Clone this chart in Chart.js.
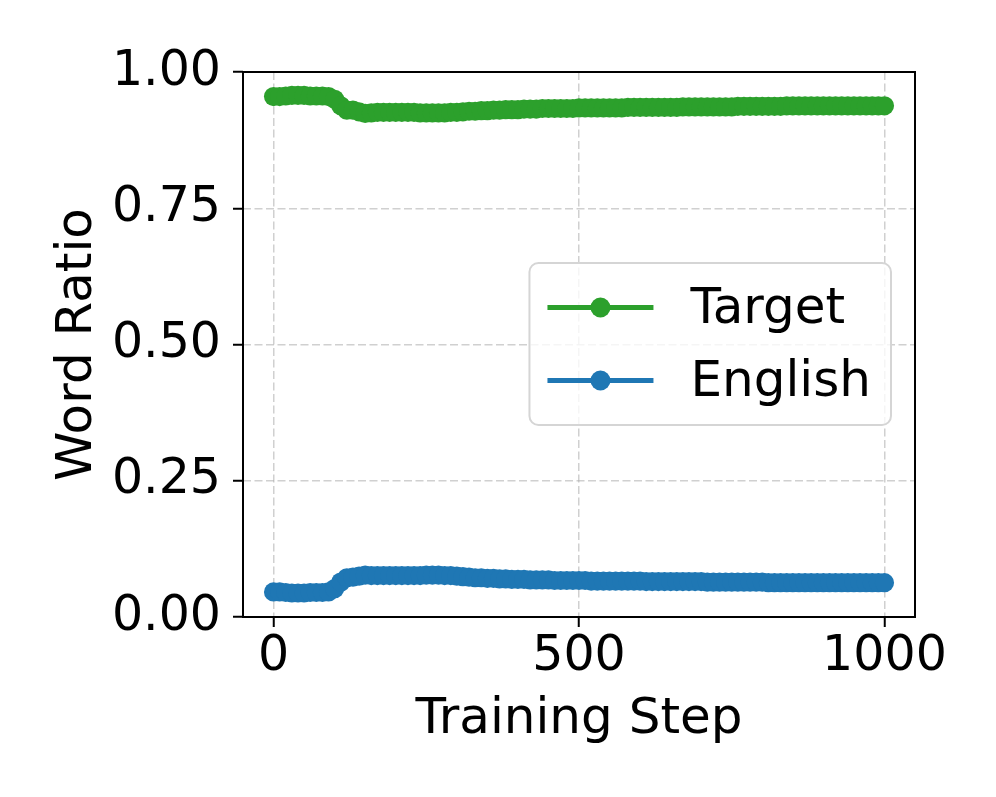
<!DOCTYPE html>
<html>
<head>
<meta charset="utf-8">
<script src="https://cdn.jsdelivr.net/npm/chart.js@4.4.1/dist/chart.umd.min.js"></script>
<style>
  html, body { margin: 0; padding: 0; background: #ffffff; }
  #wrap { width: 996px; height: 797px; }
</style>
</head>
<body>
<div id="wrap"><canvas id="c" width="996" height="797"></canvas></div>
<script>
// ---- data ----
const steps = [
  0, 10, 20, 30, 40, 50, 60, 70, 80, 90,
  100, 110, 120, 130, 140, 150, 160, 170, 180, 190,
  200, 210, 220, 230, 240, 250, 260, 270, 280, 290,
  300, 310, 320, 330, 340, 350, 360, 370, 380, 390,
  400, 410, 420, 430, 440, 450, 460, 470, 480, 490,
  500, 510, 520, 530, 540, 550, 560, 570, 580, 590,
  600, 610, 620, 630, 640, 650, 660, 670, 680, 690,
  700, 710, 720, 730, 740, 750, 760, 770, 780, 790,
  800, 810, 820, 830, 840, 850, 860, 870, 880, 890,
  900, 910, 920, 930, 940, 950, 960, 970, 980, 990,
  1000
];
const targetRatio = [
  0.955, 0.955, 0.956, 0.957, 0.957, 0.957, 0.956, 0.956, 0.956, 0.955,
  0.950, 0.938, 0.930, 0.930, 0.927, 0.924, 0.925, 0.926, 0.926, 0.926,
  0.926, 0.926, 0.926, 0.926, 0.925, 0.925, 0.925, 0.925, 0.925, 0.926,
  0.926, 0.927, 0.928, 0.928, 0.929, 0.929, 0.930, 0.930, 0.931, 0.931,
  0.931, 0.932, 0.932, 0.932, 0.933, 0.933, 0.933, 0.933, 0.933, 0.933,
  0.934, 0.934, 0.934, 0.934, 0.934, 0.934, 0.934, 0.934, 0.935, 0.935,
  0.935, 0.935, 0.935, 0.935, 0.935, 0.935, 0.935, 0.936, 0.936, 0.936,
  0.936, 0.936, 0.936, 0.936, 0.936, 0.936, 0.937, 0.937, 0.937, 0.937,
  0.937, 0.937, 0.937, 0.937, 0.938, 0.938, 0.938, 0.938, 0.938, 0.938,
  0.938, 0.938, 0.938, 0.938, 0.938, 0.938, 0.938, 0.938, 0.938, 0.938,
  0.938
];
const englishRatio = [
  0.046, 0.046, 0.045, 0.044, 0.044, 0.044, 0.045, 0.045, 0.045, 0.046,
  0.052, 0.064, 0.072, 0.073, 0.075, 0.077, 0.076, 0.076, 0.076, 0.076,
  0.076, 0.076, 0.076, 0.076, 0.076, 0.077, 0.077, 0.077, 0.076, 0.076,
  0.075, 0.074, 0.073, 0.072, 0.072, 0.071, 0.071, 0.070, 0.070, 0.069,
  0.069, 0.069, 0.068, 0.068, 0.068, 0.068, 0.067, 0.067, 0.067, 0.067,
  0.067, 0.067, 0.066, 0.066, 0.066, 0.066, 0.066, 0.066, 0.066, 0.066,
  0.066, 0.065, 0.065, 0.065, 0.065, 0.065, 0.065, 0.065, 0.065, 0.065,
  0.065, 0.064, 0.064, 0.064, 0.064, 0.064, 0.064, 0.064, 0.064, 0.064,
  0.064, 0.063, 0.063, 0.063, 0.063, 0.063, 0.063, 0.063, 0.063, 0.063,
  0.063, 0.063, 0.063, 0.063, 0.063, 0.063, 0.063, 0.063, 0.063, 0.063,
  0.063
];
const xTickValues = [0, 500, 1000];
const yTickValues = [0, 0.25, 0.5, 0.75, 1.0];
const seriesNames = ['Target', 'English'];
const seriesColors = ['#2ca02c', '#1f77b4'];
const xTitle = 'Training Step';
const yTitle = 'Word Ratio';

// ---- styling ----
const FONT = 'DejaVu Sans';
const FS = 50;
const TICK_FS = 49;

function toPoints(xs, ys) { return xs.map((x, i) => ({ x: x, y: ys[i] })); }

const frameAndLegend = {
  id: 'frameAndLegend',
  afterDraw(chart) {
    const ctx = chart.ctx;
    const a = chart.chartArea;
    // axes frame (all four spines)
    ctx.save();
    ctx.strokeStyle = '#000';
    ctx.lineWidth = 2;
    ctx.strokeRect(a.left, a.top, a.right - a.left, a.bottom - a.top);
    ctx.restore();

    // legend (center right)
    ctx.save();
    ctx.font = FS + 'px "' + FONT + '"';
    const padL = 18, handleLen = 106, gap = 37, padR = 20, rowH = 73, padV = 8;
    let tw = 0;
    chart.data.datasets.forEach(d => { tw = Math.max(tw, ctx.measureText(d.label).width); });
    const w = padL + handleLen + gap + tw + padR;
    const h = padV * 2 + rowH * chart.data.datasets.length;
    const right = a.right - 24;
    const left = right - w;
    const cy = (a.top + a.bottom) / 2 - 0.5;
    const top = cy - h / 2;
    // box
    ctx.beginPath();
    ctx.roundRect(left, top, w, h, 9);
    ctx.fillStyle = 'rgba(255,255,255,0.8)';
    ctx.fill();
    ctx.strokeStyle = '#d5d5d5';
    ctx.lineWidth = 2;
    ctx.stroke();
    chart.data.datasets.forEach((d, i) => {
      const y = top + padV + rowH * (i + 0.5);
      const x0 = left + padL;
      ctx.strokeStyle = d.borderColor;
      ctx.lineWidth = 5;
      ctx.beginPath();
      ctx.moveTo(x0, y);
      ctx.lineTo(x0 + handleLen, y);
      ctx.stroke();
      ctx.fillStyle = d.backgroundColor;
      ctx.beginPath();
      ctx.arc(x0 + handleLen / 2, y, 10, 0, Math.PI * 2);
      ctx.fill();
      ctx.fillStyle = '#000';
      ctx.textAlign = 'left';
      ctx.textBaseline = 'middle';
      ctx.fillText(d.label, x0 + handleLen + gap, y + 3);
    });
    ctx.restore();
  }
};

const gridCommon = {
  color: 'rgba(176,176,176,0.6)',
  lineWidth: 1.5,
  drawTicks: true,
  tickLength: 10,
  tickColor: '#000',
  tickWidth: 2,
  tickBorderDash: []
};

new Chart(document.getElementById('c'), {
  type: 'line',
  data: {
    datasets: [
      {
        label: seriesNames[0],
        data: toPoints(steps, targetRatio),
        borderColor: seriesColors[0],
        backgroundColor: seriesColors[0],
        pointBackgroundColor: seriesColors[0],
        pointBorderWidth: 0,
        pointRadius: 9.6,
        borderWidth: 5,
        tension: 0,
        clip: false
      },
      {
        label: seriesNames[1],
        data: toPoints(steps, englishRatio),
        borderColor: seriesColors[1],
        backgroundColor: seriesColors[1],
        pointBackgroundColor: seriesColors[1],
        pointBorderWidth: 0,
        pointRadius: 9.6,
        borderWidth: 5,
        tension: 0,
        clip: false
      }
    ]
  },
  options: {
    responsive: false,
    devicePixelRatio: 1,
    animation: false,
    events: [],
    layout: { padding: { top: 72, right: 81, left: 0, bottom: 0 } },
    plugins: { legend: { display: false }, tooltip: { enabled: false } },
    scales: {
      x: {
        type: 'linear',
        min: -50,
        max: 1050,
        afterBuildTicks: s => { s.ticks = xTickValues.map(v => ({ value: v })); },
        afterFit: s => { s.height = 180; },
        ticks: {
          font: { family: FONT, size: TICK_FS },
          color: '#000',
          padding: 1,
          maxRotation: 0,
          autoSkip: false,
          callback: v => String(v)
        },
        grid: gridCommon,
        border: { display: false, dash: [8, 3.5] },
        title: {
          display: true,
          text: xTitle,
          color: '#000',
          font: { family: FONT, size: FS },
          padding: { top: 0, bottom: 47 }
        }
      },
      y: {
        type: 'linear',
        min: 0,
        max: 1,
        afterBuildTicks: s => { s.ticks = yTickValues.map(v => ({ value: v })); },
        afterFit: s => { s.width = 243; },
        ticks: {
          font: { family: FONT, size: TICK_FS },
          color: '#000',
          padding: 12,
          autoSkip: false,
          callback: v => Number(v).toFixed(2)
        },
        grid: gridCommon,
        border: { display: false, dash: [8, 3.5] },
        title: {
          display: true,
          text: yTitle,
          color: '#000',
          font: { family: FONT, size: FS },
          padding: { top: 48, bottom: 0 }
        }
      }
    }
  },
  plugins: [frameAndLegend]
});
</script>
</body>
</html>
